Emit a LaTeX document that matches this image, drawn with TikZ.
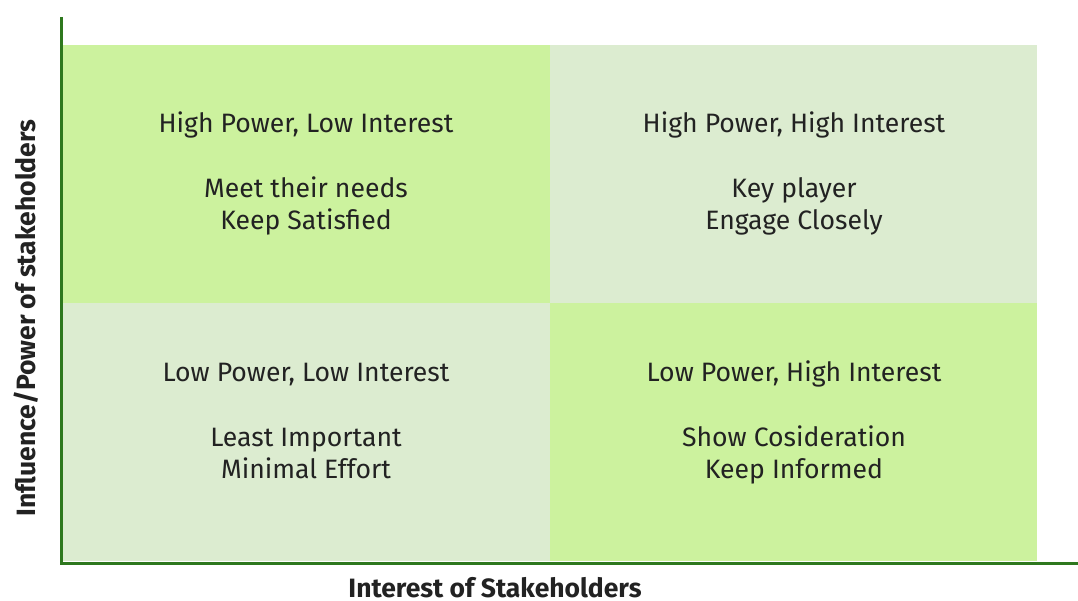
\documentclass[tikz,border=0pt]{standalone}
\usepackage{fontspec}
\setmainfont{Fira Sans}
\definecolor{brightg}{RGB}{204,242,158}
\definecolor{paleg}{RGB}{220,236,208}
\definecolor{axisg}{RGB}{46,120,30}
\definecolor{txt}{RGB}{34,34,34}
\begin{document}
\begin{tikzpicture}[x=1pt,y=-1pt,
  quad/.style={draw=none,minimum width=489pt,minimum height=258pt,anchor=north west,inner sep=0pt},
  qtext/.style={font=\fontsize{26.6}{32}\selectfont,text=txt,anchor=base,inner sep=0pt},
  axislabel/.style={font=\bfseries\fontsize{26.5}{30}\selectfont,text=txt,inner sep=0pt}]
\useasboundingbox (0,0) rectangle (1078,601);
\node[quad,fill=brightg] (tl) at (61,45) {};
\node[quad,fill=paleg,minimum width=487pt] (tr) at (550,45) {};
\node[quad,fill=paleg] (bl) at (61,303) {};
\node[quad,fill=brightg,minimum width=487pt] (br) at (550,303) {};
% top-left
\node[qtext] (tl1) at (306,133) {High Power, Low Interest};
\node[qtext] (tl2) at (306,198) {Meet their needs};
\node[qtext] (tl3) at (306,230) {Keep Satisfied};
% top-right
\node[qtext] (tr1) at (794,133) {High Power, High Interest};
\node[qtext] (tr2) at (794,198) {Key player};
\node[qtext] (tr3) at (794,230) {Engage Closely};
% bottom-left
\node[qtext] (bl1) at (306,381) {Low Power, Low Interest};
\node[qtext] (bl2) at (306,446) {Least Important};
\node[qtext] (bl3) at (306,478) {Minimal Effort};
% bottom-right
\node[qtext] (br1) at (794,381) {Low Power, High Interest};
\node[qtext] (br2) at (794,446) {Show Cosideration};
\node[qtext] (br3) at (794,478) {Keep Informed};
\coordinate (o) at (61,563);
\coordinate (ytop) at (61,17);
\coordinate (xend) at (1078,563);
\draw[axisg,line width=3pt] (ytop) -- (o) -- (xend);
\node[axislabel,rotate=90] (ylab) at (26,318) {Influence/Power of stakeholders};
\node[axislabel,anchor=base] (xlab) at (495,597) {Interest of Stakeholders};
\end{tikzpicture}
\end{document}
